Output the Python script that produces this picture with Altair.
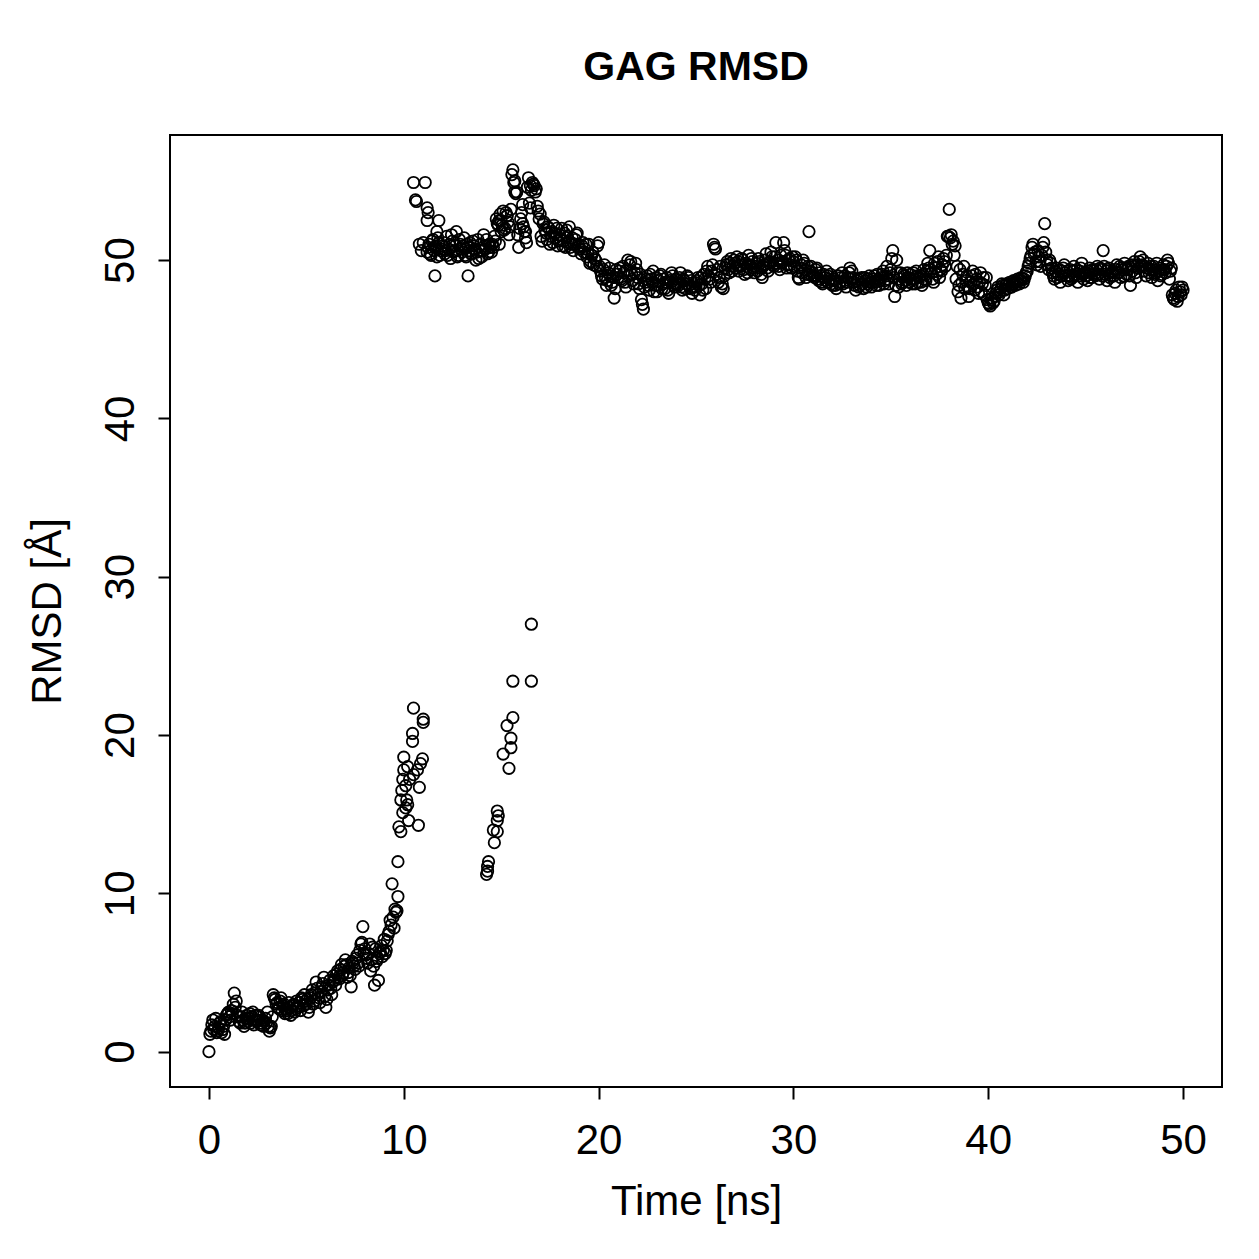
import altair as alt
import pandas as pd

# Rising phase: one frame every 0.1 ns starting at 0.0 ns
rise_start = 0.0
rise_rmsd = [
    0.0, 1.3, 2.0, 1.6, 1.2, 1.5, 1.9, 1.4, 1.1, 2.3,
    2.5, 2.0, 2.4, 3.7, 3.2, 2.2, 1.8, 2.5, 1.6, 2.1,
    1.9, 2.4, 2.2, 1.7, 2.3, 2.0, 2.2, 1.8, 1.6, 2.1,
    2.5, 1.3, 1.6, 3.6, 3.3, 3.1, 2.7, 3.4, 2.9, 2.4,
    2.6, 3.1, 2.3, 2.9, 2.5, 3.2, 2.8, 2.6, 3.3, 3.6,
    3.0, 2.5, 3.4, 3.9, 3.2, 4.4, 3.6, 3.1, 4.1, 4.7,
    2.8, 3.9, 4.5, 3.6, 4.8, 4.2, 5.1, 4.6, 5.5, 5.0,
    5.8, 4.7, 5.3, 4.1, 5.6, 5.2, 6.1, 5.4, 6.8, 7.9,
    6.5, 5.9, 6.2, 5.1, 6.6, 4.2, 5.7, 4.5, 6.3, 6.0,
    7.1, 6.4, 7.4, 8.3, 10.6, 7.8, 8.8, 9.8,
]
# Rising phase, in-between frames starting at 0.05 ns
rise2_start = 0.05
rise2_rmsd = [
    1.1, 1.7, 1.4, 2.1, 1.3, 1.8, 1.2, 1.6, 2.0, 2.4,
    2.2, 2.6, 3.0, 2.8, 2.3, 1.9, 2.2, 2.0, 1.8, 2.3,
    2.1, 1.8, 2.5, 2.0, 1.9, 2.3, 1.7, 2.0, 1.9, 1.8,
    1.6, 1.5, 2.2, 3.4, 3.0, 2.8, 3.2, 2.6, 3.0, 2.7,
    2.4, 2.8, 2.6, 3.0, 2.7, 2.9, 3.1, 3.4, 2.9, 3.2,
    3.3, 2.8, 3.6, 3.0, 3.7, 4.0, 3.4, 3.8, 4.3, 3.5,
    3.3, 4.2, 4.0, 4.4, 4.5, 4.9, 4.7, 5.2, 4.8, 5.4,
    5.5, 5.0, 4.8, 5.7, 5.4, 5.9, 5.6, 6.4, 6.9, 6.2,
    6.1, 5.6, 6.8, 5.8, 5.4, 6.5, 5.9, 6.2, 6.7, 6.4,
    6.2, 7.0, 7.6, 8.0, 8.5, 9.0, 8.9,
]

# Upper plateau: one frame every 0.1 ns starting at 11.2 ns
band_start = 11.2
band_rmsd = [
    50.5, 51.0, 50.3, 51.3, 50.8, 50.2, 51.1, 50.6,
    50.9, 50.4, 51.5, 50.7, 50.1, 51.2, 50.6, 51.8, 50.3, 51.0,
    50.5, 51.4, 50.2, 50.8, 51.1, 50.4, 50.9, 50.0, 51.3, 50.6,
    50.2, 51.6, 50.7, 50.4, 51.0, 50.5, 50.8, 51.2, 52.3, 51.0,
    52.5, 53.1, 52.0, 52.8, 51.6, 53.2, 55.7, 55.0, 54.3, 50.8,
    52.6, 53.5, 51.8, 51.1, 55.2, 53.3, 54.9, 54.7, 54.5, 53.1,
    52.9, 51.2, 52.4, 51.7, 52.1, 51.0, 51.8, 52.2, 51.4, 50.9,
    51.6, 52.0, 51.2, 50.8, 51.5, 52.1, 51.0, 50.6, 51.3, 51.7,
    50.9, 50.4, 51.1, 50.7, 50.2, 51.0, 49.9, 50.5, 50.1, 49.6,
    51.1, 49.3, 48.8, 49.7, 48.4, 49.2, 49.0, 48.6, 47.6, 49.4,
    48.9, 49.5, 48.7, 49.2, 48.3, 50.0, 49.7, 49.1, 48.5, 49.8,
    48.9, 48.2, 47.5, 46.9, 48.6, 49.0, 48.1, 48.8, 49.3, 48.4,
    48.0, 48.7, 49.1, 48.5, 48.2, 48.9, 47.9, 48.6, 49.0, 48.3,
    48.8, 48.4, 49.2, 48.1, 48.7, 48.5, 48.9, 48.2, 47.9, 48.6,
    48.3, 48.9, 47.8, 48.5, 49.1, 48.2, 49.6, 48.8, 49.3, 51.0,
    50.7, 49.4, 48.9, 48.3, 48.2, 49.5, 49.9, 49.2, 50.1, 49.6,
    49.8, 50.2, 49.3, 49.7, 50.0, 49.1, 49.6, 50.3, 49.4, 49.9,
    49.2, 49.8, 50.1, 49.5, 48.9, 49.7, 50.4, 49.3, 49.9, 50.2,
    49.6, 51.1, 50.0, 49.4, 49.8, 51.1, 50.3, 49.7, 50.1, 49.5,
    49.9, 50.2, 49.3, 48.8, 49.7, 50.0, 49.4, 49.1, 51.8, 49.6,
    49.2, 48.9, 49.5, 48.7, 49.0, 48.5, 48.9, 49.3, 48.6, 49.1,
    48.4, 48.8, 48.2, 49.0, 48.6, 49.2, 48.7, 48.3, 48.9, 49.5,
    49.3, 48.6, 48.1, 48.8, 48.4, 48.9, 48.2, 48.7, 48.5, 49.0,
    48.3, 48.8, 48.6, 49.1, 48.4, 48.9, 49.3, 48.7, 49.6, 48.5,
    49.4, 50.6, 47.7, 50.0, 48.3, 49.2, 48.6, 49.0, 48.4, 48.9,
    49.1, 48.5, 48.8, 49.3, 48.6, 49.0, 48.4, 49.4, 48.7, 49.8,
    50.6, 49.2, 48.6, 49.5, 49.9, 48.9, 49.3, 50.1, 49.6, 51.5,
    53.2, 51.6, 51.2, 50.9, 49.6, 48.4, 47.6, 49.1, 48.2, 49.0,
    47.7, 48.6, 49.3, 48.1, 48.8, 47.9, 49.2, 48.5, 47.8, 48.9,
    47.3, 47.1, 47.6, 47.4, 47.9, 48.3, 48.0, 48.5, 47.8, 48.4,
    48.2, 48.6, 48.3, 48.7, 48.4, 48.8, 48.5, 48.9, 48.6, 49.0,
    49.3, 49.8, 50.3, 51.0, 50.5, 49.7, 50.2, 49.6, 50.8, 52.3,
    50.0, 49.4, 49.8, 49.2, 48.8, 49.5, 49.1, 48.6, 49.3, 49.7,
    49.0, 48.7, 49.4, 48.9, 49.6, 49.1, 48.6, 49.3, 49.8, 48.8,
    49.2, 48.7, 49.5, 48.9, 49.3, 49.0, 49.6, 48.8, 49.4, 50.6,
    49.1, 48.7, 49.5, 49.0, 49.3, 48.6, 49.7, 49.2, 48.9, 49.4,
    49.8, 49.1, 49.6, 48.4, 49.3, 49.9, 48.9, 49.5, 50.2, 49.7,
    49.3, 49.0, 49.8, 49.4, 48.9, 49.6, 49.2, 48.7, 49.5, 49.1,
    49.7, 49.2, 50.0, 48.8, 49.5, 47.6, 47.9, 47.4, 48.3, 47.8,
    48.1,
]
# Upper plateau, in-between frames starting at 11.25 ns
band2_start = 11.25
band2_rmsd = [
    50.8, 50.4, 51.2, 50.6, 50.9, 51.4, 50.3, 50.7,
    51.1, 50.6, 50.3, 51.0, 51.6, 50.5, 50.9, 50.2, 51.3, 50.7,
    50.9, 50.3, 51.0, 50.6, 50.4, 51.2, 50.7, 50.5, 50.1, 51.0,
    50.6, 50.9, 51.3, 50.5, 50.8, 51.0, 51.5, 52.6, 52.2, 52.9,
    52.2, 51.9, 53.0, 52.4, 52.1, 55.4, 54.9, 54.2, 51.6, 52.0,
    53.0, 52.1, 51.4, 54.6, 53.6, 54.4, 54.8, 54.3, 53.4, 52.6,
    51.5, 52.3, 51.9, 51.3, 52.0, 51.5, 51.1, 51.7, 52.0, 51.2,
    51.3, 50.9, 51.7, 51.9, 51.1, 50.8, 51.4, 51.0, 51.6, 50.8,
    50.7, 50.9, 50.5, 51.0, 50.4, 49.8, 50.3, 49.7, 50.0, 50.9,
    49.6, 49.0, 49.4, 48.9, 48.7, 49.5, 48.4, 48.9, 48.2, 49.1,
    49.3, 48.8, 49.6, 48.6, 49.4, 49.0, 49.9, 48.7, 49.2, 49.4,
    48.5, 49.1, 47.2, 48.3, 48.8, 48.4, 49.1, 48.6, 48.0, 48.9,
    48.4, 49.0, 48.2, 48.8, 48.6, 48.1, 48.7, 49.2, 48.4, 48.8,
    48.5, 48.9, 48.3, 48.8, 48.2, 49.0, 48.4, 48.7, 48.3, 48.1,
    48.7, 48.4, 48.9, 48.1, 48.8, 49.3, 49.0, 48.6, 49.7, 50.8,
    49.1, 48.6, 49.6, 48.5, 49.0, 49.7, 49.4, 49.8, 49.3, 50.0,
    49.5, 49.9, 49.6, 50.1, 49.4, 49.8, 49.2, 49.7, 50.1, 49.5,
    49.6, 49.3, 49.9, 49.1, 49.6, 50.0, 49.5, 49.8, 50.5, 49.7,
    50.2, 49.8, 49.6, 50.3, 49.9, 50.6, 49.5, 50.0, 49.7, 50.2,
    49.6, 50.0, 48.9, 49.5, 49.2, 49.8, 48.9, 49.6, 49.3, 49.0,
    49.0, 49.4, 48.8, 49.2, 48.6, 49.1, 48.7, 49.0, 48.8, 48.5,
    48.7, 48.4, 49.0, 48.5, 48.9, 48.5, 49.0, 48.6, 49.2, 48.8,
    48.9, 48.4, 48.7, 48.3, 48.8, 48.5, 48.9, 48.3, 48.8, 48.6,
    48.6, 49.0, 48.4, 48.8, 48.7, 49.1, 48.5, 49.0, 48.8, 49.2,
    50.1, 48.9, 48.4, 49.2, 48.8, 48.5, 49.1, 48.7, 49.2, 48.6,
    48.8, 49.2, 48.5, 49.0, 48.9, 48.6, 49.1, 48.8, 49.3, 49.5,
    49.4, 48.8, 49.8, 49.1, 50.2, 49.4, 49.7, 49.9, 50.3, 51.5,
    51.4, 51.0, 50.3, 48.8, 48.0, 49.4, 48.6, 49.6, 48.7, 48.3,
    48.2, 49.0, 48.5, 49.1, 48.3, 48.6, 48.0, 48.9, 48.4, 47.5,
    47.2, 47.5, 47.3, 47.7, 48.1, 47.8, 48.2, 48.4, 48.1, 48.5,
    48.4, 48.3, 48.5, 48.6, 48.6, 48.7, 48.7, 48.8, 48.8, 49.2,
    49.6, 50.1, 50.8, 50.4, 49.9, 50.6, 49.9, 50.3, 51.1, 50.5,
    49.7, 50.0, 49.5, 49.0, 49.3, 48.9, 49.4, 49.0, 49.5, 49.2,
    49.3, 49.0, 48.8, 49.3, 49.0, 49.4, 49.0, 49.5, 49.1, 49.2,
    49.0, 49.3, 48.9, 49.4, 49.1, 49.4, 49.1, 49.5, 49.0, 49.6,
    49.3, 49.4, 48.9, 49.2, 49.0, 49.4, 49.2, 49.6, 49.5, 49.0,
    49.5, 49.4, 49.0, 49.7, 49.6, 49.2, 49.7, 49.9, 49.6, 50.0,
    49.6, 49.5, 49.2, 49.6, 49.4, 49.1, 49.8, 49.3, 49.0, 49.4,
    49.4, 49.6, 49.8, 49.3, 47.8, 47.5, 48.1, 47.7, 48.0, 48.3,
]

# Scattered frames (jumps between images), read individually
extra_time = [
    9.7, 9.75, 9.85, 9.85, 9.9, 9.95, 9.95, 10.0, 10.0, 10.1, 10.1, 10.15,
    10.2, 10.2, 10.25, 10.3, 10.45, 10.45, 10.5, 10.5, 10.7, 10.75, 10.8,
    10.86, 10.96, 11.0, 11.0,
    10.5, 10.6, 10.65, 10.8, 10.9, 11.0, 11.1, 11.2, 11.25, 11.2, 11.8,
    11.7, 11.6, 13.3, 14.9, 15.0, 15.3, 15.7, 16.1, 16.25, 16.5,
    14.25, 14.3, 14.35, 14.3, 14.6, 14.65, 14.8, 14.8, 14.85, 14.8,
    15.1, 15.3, 15.4, 15.5, 15.5, 15.6, 15.6, 16.55, 16.55,
]
extra_rmsd = [
    12.0, 14.2, 13.9, 15.9, 16.5, 15.1, 17.2, 17.8, 18.6, 15.4, 16.8, 15.9,
    15.6, 18.0, 14.6, 17.2, 20.1, 19.6, 21.7, 17.5, 17.8, 14.3, 16.7,
    18.2, 18.5, 21.0, 20.8,
    54.9, 53.8, 53.7, 51.0, 50.6, 51.1, 54.9, 53.3, 53.0, 52.5, 52.5,
    51.8, 49.0, 49.0, 52.5, 51.8, 52.8, 54.3, 52.3, 51.8, 54.7,
    11.2, 11.7, 12.0, 11.4, 14.0, 13.2, 13.9, 15.2, 14.9, 14.6,
    18.8, 20.6, 17.9, 19.8, 19.2, 21.1, 23.4, 23.4, 27.0,
]

x_ticks = [0, 10, 20, 30, 40, 50]
y_ticks = [0, 10, 20, 30, 40, 50]


def frames(start, vals):
    return [round(start + 0.1 * i, 3) for i in range(len(vals))]


times = (frames(rise_start, rise_rmsd) + frames(rise2_start, rise2_rmsd)
         + frames(band_start, band_rmsd) + frames(band2_start, band2_rmsd)
         + extra_time)
values = rise_rmsd + rise2_rmsd + band_rmsd + band2_rmsd + extra_rmsd
df = pd.DataFrame({"time": times, "rmsd": values})

FONT = "Liberation Sans"

points = alt.Chart(df).mark_point(
    shape="circle", filled=False, color="black", strokeWidth=1.8, size=130, opacity=1
).encode(
    x=alt.X(
        "time:Q",
        scale=alt.Scale(domain=[-2, 52], nice=False, zero=False),
        axis=alt.Axis(
            values=x_ticks, title="Time [ns]", format="d",
            labelPadding=21, titlePadding=20,
        ),
    ),
    y=alt.Y(
        "rmsd:Q",
        scale=alt.Scale(domain=[-2.23, 57.9], nice=False, zero=False),
        axis=alt.Axis(
            values=y_ticks, title="RMSD [Å]", format="d",
            labelAngle=270, labelAlign="center", labelBaseline="bottom",
            labelPadding=16, titlePadding=30,
        ),
    ),
)

chart = points.properties(
    width=1052,
    height=952,
    background="white",
    title=alt.TitleParams(
        "GAG RMSD", font=FONT, fontSize=41, fontWeight="bold",
        anchor="middle", offset=46, color="black",
    ),
    padding={"left": 170, "top": 135, "right": 37, "bottom": 172},
    autosize=alt.AutoSizeParams(type="none"),
).configure_view(
    stroke="black", strokeWidth=2
).configure_axis(
    grid=False, domain=False,
    labelFont=FONT, labelFontSize=42, labelColor="black",
    titleFont=FONT, titleFontSize=42, titleFontWeight="normal", titleColor="black",
    tickColor="black", tickWidth=2, tickSize=12,
)

chart.save("out.html", embed_options={"renderer": "svg", "actions": False})
